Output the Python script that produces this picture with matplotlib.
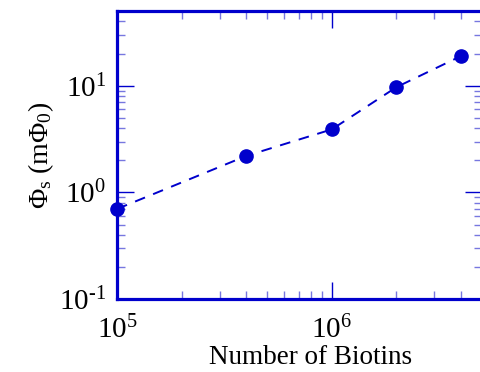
import matplotlib
matplotlib.use("Agg")
import matplotlib.pyplot as plt
from matplotlib.ticker import LogLocator, FuncFormatter
import numpy as np

# values
biotins = [1.0e5, 4.0e5, 1.0e6, 2.0e6, 4.0e6]
phi_s = [0.70, 2.2, 3.9, 9.7, 19.0]

BLUE = "#0000cc"
MINOR = "#7777e0"

plt.rcParams["font.family"] = ["Liberation Serif", "DejaVu Serif"]
plt.rcParams["mathtext.fontset"] = "custom"
plt.rcParams["mathtext.rm"] = "Liberation Serif"
plt.rcParams["mathtext.it"] = "Liberation Serif:italic"
plt.rcParams["mathtext.bf"] = "Liberation Serif:bold"


def pow10(v, pos):
    e = int(round(np.log10(v)))
    if e < 0:
        return r"$10^{\text{-}%d}$" % -e
    return r"$10^{%d}$" % e


fig = plt.figure(figsize=(4.8, 3.72), dpi=100)
ax = fig.add_axes([0.244, 0.196, 0.760, 0.774])

ax.plot(biotins, phi_s, color=BLUE, linestyle=(0, (5.5, 4.5)), linewidth=1.4,
        marker="o", markersize=9.5, clip_on=False, zorder=5)

ax.set_xscale("log")
ax.set_yscale("log")
ax.set_xlim(1e5, 5e6)
ax.set_ylim(0.1, 50)

ax.xaxis.set_major_locator(LogLocator(base=10))
ax.yaxis.set_major_locator(LogLocator(base=10))
ax.xaxis.set_major_formatter(FuncFormatter(pow10))
ax.yaxis.set_major_formatter(FuncFormatter(pow10))

for side in ax.spines.values():
    side.set_color(BLUE)
    side.set_linewidth(2.3)

ax.tick_params(which="both", direction="in", top=True, right=True, labelsize=21)
ax.tick_params(which="major", length=12, width=1.0, color=BLUE, pad=8)
ax.tick_params(which="minor", length=6, width=1.0, color=MINOR)
ax.tick_params(axis="x", which="major", pad=12)

ax.set_xlabel("Number of Biotins", fontsize=19.5)
ax.set_ylabel(r"$\Phi_{\rm s}$ (m$\Phi_0$)", fontsize=20, labelpad=2)

# put the x label just under the tick labels, as tight as in the reference
fig.canvas.draw()
r = fig.canvas.get_renderer()
lowest = min(t.get_window_extent(r).y0 for t in ax.get_xticklabels() if t.get_text())
_, y_ax = ax.transAxes.inverted().transform((0, lowest - 1))
ax.xaxis.set_label_coords(0.53, y_ax, transform=ax.transAxes)

fig.savefig("out.png", dpi=100)
